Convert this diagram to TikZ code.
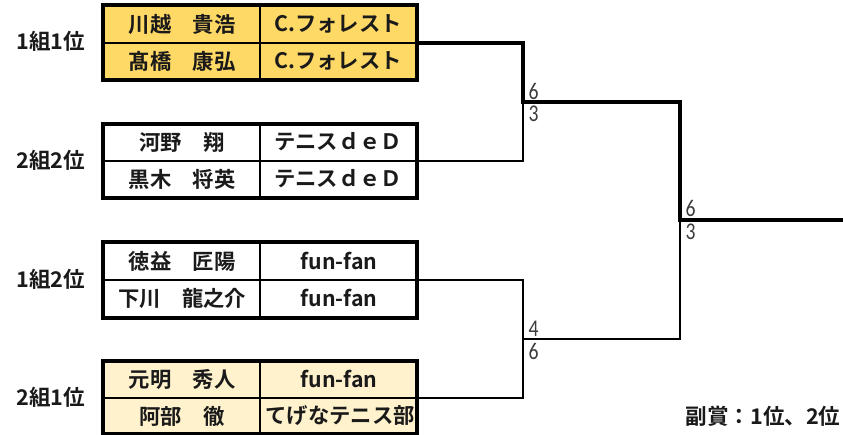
\documentclass[tikz,border=0pt]{standalone}
\usepackage{fontspec}
\setmainfont{Noto Sans CJK JP}[BoldFont={Noto Sans CJK JP Bold}]
\newfontfamily\scorefont[FakeStretch=0.82]{Carlito}
\definecolor{gold}{HTML}{FFD966}
\definecolor{pale}{HTML}{FFF2CC}
\definecolor{inkc}{HTML}{1A1A1A}
\tikzset{
  x=0.75pt,y=-0.75pt,
  tablebox/.style={draw=black,line width=3pt,minimum width=235.5pt,minimum height=#1,inner sep=0pt,outer sep=0pt,anchor=north west},
  cell/.style={font=\bfseries\fontsize{16pt}{18pt}\selectfont,text=inkc,inner sep=0pt,anchor=center},
  grp/.style={font=\bfseries\fontsize{16.2pt}{18pt}\selectfont,text=inkc,inner sep=0pt,anchor=center},
  score/.style={font=\scorefont\fontsize{18pt}{20pt}\selectfont,text=inkc!85,inner sep=0pt,anchor=center},
  rule/.style={draw=black,line width=1.5pt},
  win/.style={draw=black,line width=3pt,line cap=rect,line join=miter},
  lose/.style={draw=black,line width=1.5pt,line join=miter},
}
\begin{document}
\begin{tikzpicture}
\useasboundingbox (0,0) rectangle (843,435);
% tables
\node[tablebox=56.25pt,fill=gold] (t1) at (103,5) {};
\node[tablebox=55.5pt] (t2) at (103,124) {};
\node[tablebox=57pt] (t3) at (103,242) {};
\node[tablebox=54.75pt,fill=pale] (t4) at (103,361) {};
% dividers
\draw[rule] (103,43) -- (417,43);
\draw[rule] (259.5,5) -- (259.5,80);
\draw[rule] (103,161) -- (417,161);
\draw[rule] (259.5,124) -- (259.5,198);
\draw[rule] (103,280) -- (417,280);
\draw[rule] (259.5,242) -- (259.5,318);
\draw[rule] (103,398) -- (417,398);
\draw[rule] (259.5,361) -- (259.5,433);
% group labels
\node[grp] (g1) at (51,41) {1組1位};
\node[grp] (g2) at (51,160) {2組2位};
\node[grp] (g3) at (51,279) {1組2位};
\node[grp] (g4) at (51,397) {2組1位};
% cells
\node[cell] (a1) at (182,24) {川越　貴浩};
\node[cell] (b1) at (338,24) {C.フォレスト};
\node[cell] (a2) at (182,61) {髙橋　康弘};
\node[cell] (b2) at (338,61) {C.フォレスト};
\node[cell] (a3) at (182,142) {河野　翔};
\node[cell] (b3) at (338,142) {テニスｄｅＤ};
\node[cell] (a4) at (182,179) {黒木　将英};
\node[cell] (b4) at (338,179) {テニスｄｅＤ};
\node[cell] (a5) at (182,261) {徳益　匠陽};
\node[cell] (b5) at (339,261) {fun-fan};
\node[cell] (a6) at (182,298) {下川　龍之介};
\node[cell] (b6) at (339,298) {fun-fan};
\node[cell] (a7) at (182,379) {元明　秀人};
\node[cell] (b7) at (339,379) {fun-fan};
\node[cell] (a8) at (182,416) {阿部　徹};
\node[cell] (b8) at (340,416) {てげなテニス部};
% junctions
\coordinate (p1) at (417,43);
\coordinate (p2) at (417,161);
\coordinate (p3) at (417,280);
\coordinate (p4) at (417,398);
\coordinate (j1) at (523,102);
\coordinate (j2) at (523,339);
\coordinate (j3) at (680,220);
\coordinate (endp) at (843,220);
% connectors
\draw[lose] (p2) -| (j1);
\draw[lose] (p3) -| (j2);
\draw[lose] (p4) -| (j2);
\draw[lose] (j2) -| (j3);
\draw[win] (p1) -| (j1) -- (j1 -| j3) -- (j3) -- (endp);
% scores
\node[score] (s11) at (533.5,91) {6};
\node[score] (s12) at (533.5,114) {3};
\node[score] (s21) at (690.5,208.5) {6};
\node[score] (s22) at (690.5,231.5) {3};
\node[score] (s31) at (533.5,328.5) {4};
\node[score] (s32) at (533.5,351.5) {6};
% note
\node[grp] (n) at (763,416) {副賞：1位、2位};
\end{tikzpicture}
\end{document}
